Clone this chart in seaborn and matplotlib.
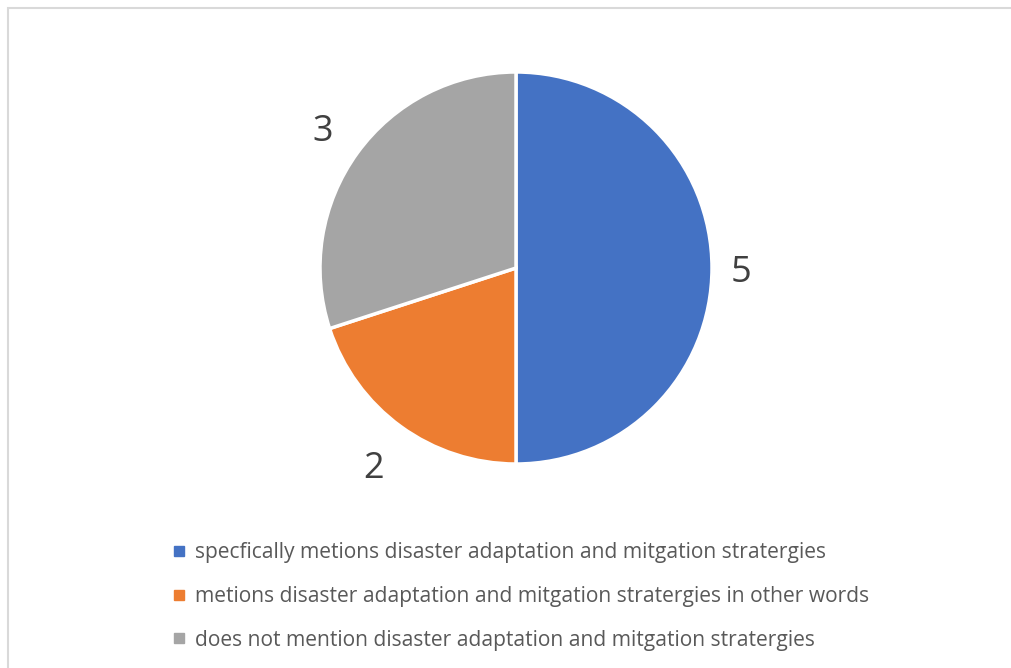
import numpy as np
import pandas as pd
import matplotlib.pyplot as plt
import seaborn as sns
from matplotlib.lines import Line2D
from matplotlib.patches import Rectangle

# Chart data
categories = [
    'specfically metions disaster adaptation and mitgation stratergies',
    'metions disaster adaptation and mitgation stratergies in other words',
    'does not mention disaster adaptation and mitgation stratergies',
]
counts = [5, 2, 3]
colors = ['#4472C4', '#ED7D31', '#A5A5A5']
label_dist = [1.15, 1.24, 1.22]  # Excel "best fit" label offsets

df = pd.DataFrame({'Category': categories, 'Count': counts})

sns.set_theme(style='white')
plt.rcParams['font.family'] = ['Open Sans', 'DejaVu Sans']

W, H = 1011, 668
fig = plt.figure(figsize=(W / 100, H / 100), dpi=100)

# Light grey frame around the chart area
fig.patches.append(Rectangle((8 / W, -0.01), 1.1, 1 - 8 / H + 0.01,
                             transform=fig.transFigure, fill=False,
                             edgecolor='#D9D9D9', linewidth=1.5))

# Pie axes placed in pixel box
cx, cy, r = 516, 268, 196
ax = fig.add_axes([(cx - r) / W, (H - cy - r) / H, 2 * r / W, 2 * r / H])
wedges, texts = ax.pie(df['Count'], colors=colors, startangle=90,
                       counterclock=False, labels=df['Count'].astype(str),
                       wedgeprops=dict(edgecolor='white', linewidth=2.5),
                       textprops=dict(fontsize=26, color='#404040'))
for w, t, d in zip(wedges, texts, label_dist):
    ang = np.deg2rad((w.theta1 + w.theta2) / 2)
    t.set_position((d * np.cos(ang), d * np.sin(ang)))
    t.set_ha('center')
    t.set_va('center_baseline')
ax.set_xlim(-1, 1)
ax.set_ylim(-1, 1)
ax.set_aspect('equal')
ax.axis('off')

handles = [Line2D([0], [0], marker='s', linestyle='', markersize=7,
                  markerfacecolor=c, markeredgecolor=c) for c in colors]
fig.legend(handles, df['Category'], loc='upper left',
           bbox_to_anchor=(162 / W, 1 - 532 / H), frameon=False,
           fontsize=15.1, labelcolor='#595959', handlelength=0.6,
           handletextpad=0.45, labelspacing=1.08, borderpad=0)

fig.savefig('out.png', dpi=100, facecolor='white')
